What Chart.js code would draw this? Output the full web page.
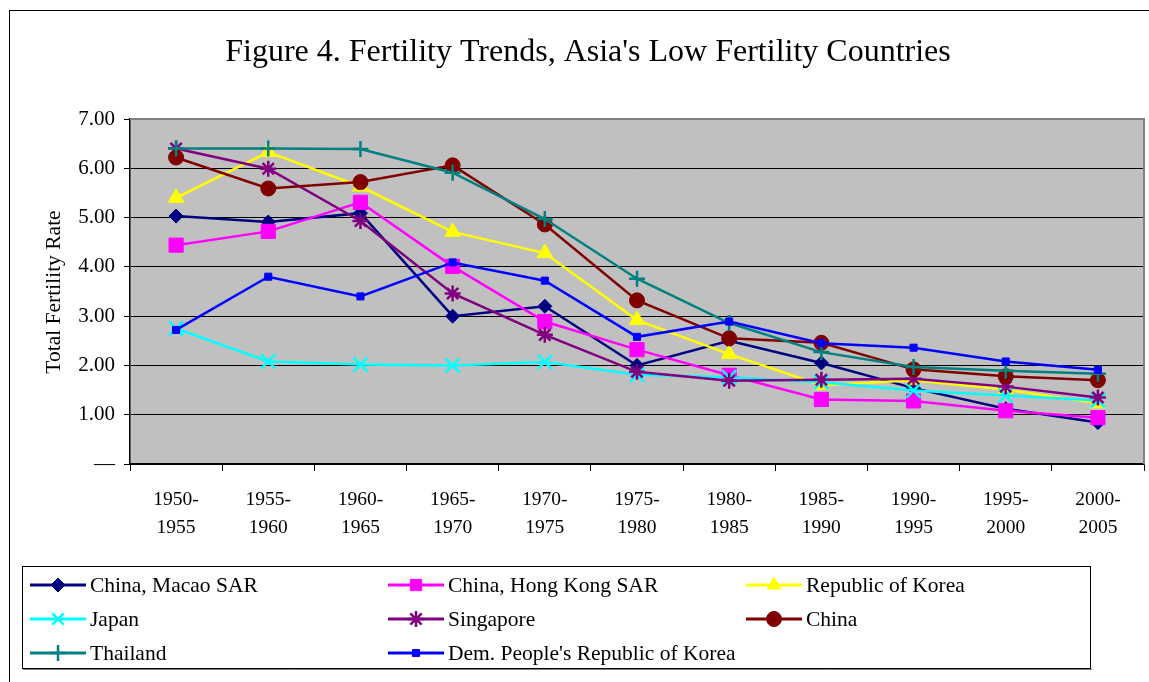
<!DOCTYPE html>
<html>
<head>
<meta charset="utf-8">
<style>
  html, body { margin: 0; padding: 0; background: #fff; }
  #wrap { width: 1149px; height: 682px; }
</style>
<script src="https://cdn.jsdelivr.net/npm/chart.js@4/dist/chart.umd.min.js"></script>
</head>
<body>
<div id="wrap"><canvas id="chart" width="1149" height="682"></canvas></div>
<script>
// periods on the x axis, split into two lines at the dash
const PERIODS = ["1950-1955", "1955-1960", "1960-1965", "1965-1970", "1970-1975", "1975-1980",
  "1980-1985", "1985-1990", "1990-1995", "1995-2000", "2000-2005"];
const Y_TICK_LABELS = ["\u2014", "1.00", "2.00", "3.00", "4.00", "5.00", "6.00", "7.00"];

const macao = [5.03, 4.91, 5.09, 3.00, 3.20, 2.00, 2.50, 2.05, 1.54, 1.12, 0.84];
const hongKong = [4.44, 4.72, 5.31, 4.01, 2.89, 2.32, 1.80, 1.31, 1.28, 1.08, 0.94];
const korea = [5.40, 6.33, 5.63, 4.71, 4.28, 2.92, 2.23, 1.60, 1.70, 1.51, 1.23];
const japan = [2.75, 2.08, 2.02, 2.00, 2.07, 1.81, 1.76, 1.66, 1.49, 1.39, 1.29];
const singapore = [6.40, 5.99, 4.93, 3.46, 2.62, 1.87, 1.69, 1.71, 1.73, 1.57, 1.35];
const china = [6.22, 5.59, 5.72, 6.06, 4.86, 3.32, 2.55, 2.46, 1.92, 1.78, 1.70];
const thailand = [6.40, 6.40, 6.39, 5.91, 4.97, 3.76, 2.86, 2.27, 1.97, 1.89, 1.83];
const dprk = [2.72, 3.80, 3.40, 4.09, 3.72, 2.58, 2.89, 2.45, 2.36, 2.08, 1.91];

const SERIES = [
  { label: "China, Macao SAR", data: macao, color: "#000080", style: "rectRot", r: 7, bw: 1 },
  { label: "China, Hong Kong SAR", data: hongKong, color: "#ff00ff", style: "rect", r: 10, bw: 1 },
  { label: "Republic of Korea", data: korea, color: "#ffff00", style: "triangle", r: 9, bw: 1 },
  { label: "Japan", data: japan, color: "#00ffff", style: "crossRot", r: 10, bw: 2.5 },
  { label: "Singapore", data: singapore, color: "#800080", style: "star", r: 8, bw: 2.5 },
  { label: "China", data: china, color: "#800000", style: "circle", r: 7.5, bw: 1 },
  { label: "Thailand", data: thailand, color: "#008080", style: "cross", r: 8, bw: 2.5 },
  { label: "Dem. People's Republic of Korea", data: dprk, color: "#0000ff", style: "rect", r: 5, bw: 1 },
];

const SERIF = "'Liberation Serif', 'Times New Roman', serif";

// frame, plot fill, title, axis title and the boxed legend
const decor = {
  id: "decor",
  beforeDraw(chart) {
    const { ctx, chartArea: a } = chart;
    ctx.save();
    ctx.fillStyle = "#fff";
    ctx.fillRect(0, 0, chart.width, chart.height);
    ctx.strokeStyle = "#000";
    ctx.lineWidth = 1;
    ctx.strokeRect(9.5, 10.5, 1300, 800);
    ctx.fillStyle = "#c0c0c0";
    ctx.fillRect(a.left, a.top, a.right - a.left, a.bottom - a.top);

    ctx.fillStyle = "#000";
    ctx.font = "32px " + SERIF;
    ctx.textAlign = "center";
    ctx.textBaseline = "middle";
    ctx.fillText("Figure 4. Fertility Trends, Asia's Low Fertility Countries", 588, 53);

    ctx.font = "21.5px " + SERIF;
    ctx.translate(54, 292);
    ctx.rotate(-Math.PI / 2);
    ctx.fillText("Total Fertility Rate", 0, 0);
    ctx.restore();
  },
  beforeDatasetsDraw(chart) {
    const { ctx, chartArea: a } = chart;
    ctx.save();
    ctx.strokeStyle = "#808080";
    ctx.lineWidth = 2;
    ctx.beginPath();
    ctx.moveTo(a.left, a.top);
    ctx.lineTo(a.right, a.top);
    ctx.lineTo(a.right, a.bottom);
    ctx.stroke();
    ctx.restore();
  },
  afterDraw(chart) {
    const ctx = chart.ctx;
    ctx.save();
    ctx.strokeStyle = "#000";
    ctx.lineWidth = 1;
    ctx.strokeRect(22.5, 566.5, 1068, 102);
    ctx.strokeStyle = "#808080";
    ctx.beginPath();
    ctx.moveTo(23, 669.5);
    ctx.lineTo(1092, 669.5);
    ctx.stroke();

    const colX = [30, 388, 746];
    const rowY = [585, 619, 653];
    ctx.font = "21.5px " + SERIF;
    ctx.textAlign = "left";
    ctx.textBaseline = "middle";
    chart.data.datasets.forEach((ds, i) => {
      const x = colX[i % 3], y = rowY[Math.floor(i / 3)];
      ctx.strokeStyle = ds.borderColor;
      ctx.lineWidth = 3;
      ctx.beginPath();
      ctx.moveTo(x, y);
      ctx.lineTo(x + 56, y);
      ctx.stroke();
      ctx.fillStyle = ds.pointBackgroundColor;
      ctx.strokeStyle = ds.pointBorderColor;
      ctx.lineWidth = ds.pointBorderWidth;
      Chart.helpers.drawPoint(ctx, {
        pointStyle: ds.pointStyle,
        radius: Math.min(ds.pointRadius, 8),
        borderWidth: ds.pointBorderWidth,
        rotation: 0,
      }, x + 28, y);
      ctx.fillStyle = "#000";
      ctx.fillText(ds.label, x + 60, y + 1);
    });
    ctx.restore();
  },
};

new Chart(document.getElementById("chart"), {
  type: "line",
  data: {
    labels: PERIODS.map((p) => { const [a, b] = p.split("-"); return [a + "-", b]; }),
    datasets: SERIES.map((s, i) => ({
      label: s.label,
      data: s.data,
      borderColor: s.color,
      backgroundColor: s.color,
      pointBackgroundColor: s.color,
      pointBorderColor: s.color,
      pointStyle: s.style,
      pointRadius: s.r,
      pointBorderWidth: s.bw,
      borderWidth: 2.5,
      tension: 0,
      clip: false,
      order: SERIES.length - i,
    })),
  },
  options: {
    responsive: false,
    animation: false,
    events: [],
    layout: { autoPadding: false, padding: { left: 0, top: 119, right: 5, bottom: 118 } },
    plugins: { legend: { display: false }, tooltip: { enabled: false }, title: { display: false } },
    scales: {
      x: {
        offset: true,
        grid: { offset: true, drawOnChartArea: false, color: "#000", tickLength: 7, lineWidth: 1 },
        border: { color: "#000", width: 1.5 },
        ticks: { color: "#000", font: { family: SERIF, size: 19.5, lineHeight: 1.42 }, padding: 15, maxRotation: 0, autoSkip: false },
        afterFit(scale) {
          scale.height = 100;
          scale.paddingLeft = 0;
          scale.paddingRight = 0;
        },
      },
      y: {
        min: 0,
        max: 7,
        grid: { color: "#000", tickLength: 6, lineWidth: 1 },
        border: { color: "#000", width: 1.5 },
        ticks: {
          stepSize: 1,
          color: "#000",
          padding: 9,
          font: { family: SERIF, size: 21 },
          callback: (v, i) => Y_TICK_LABELS[i],
        },
        afterFit(scale) { scale.width = 130; },
      },
    },
  },
  plugins: [decor],
});
</script>
</body>
</html>
